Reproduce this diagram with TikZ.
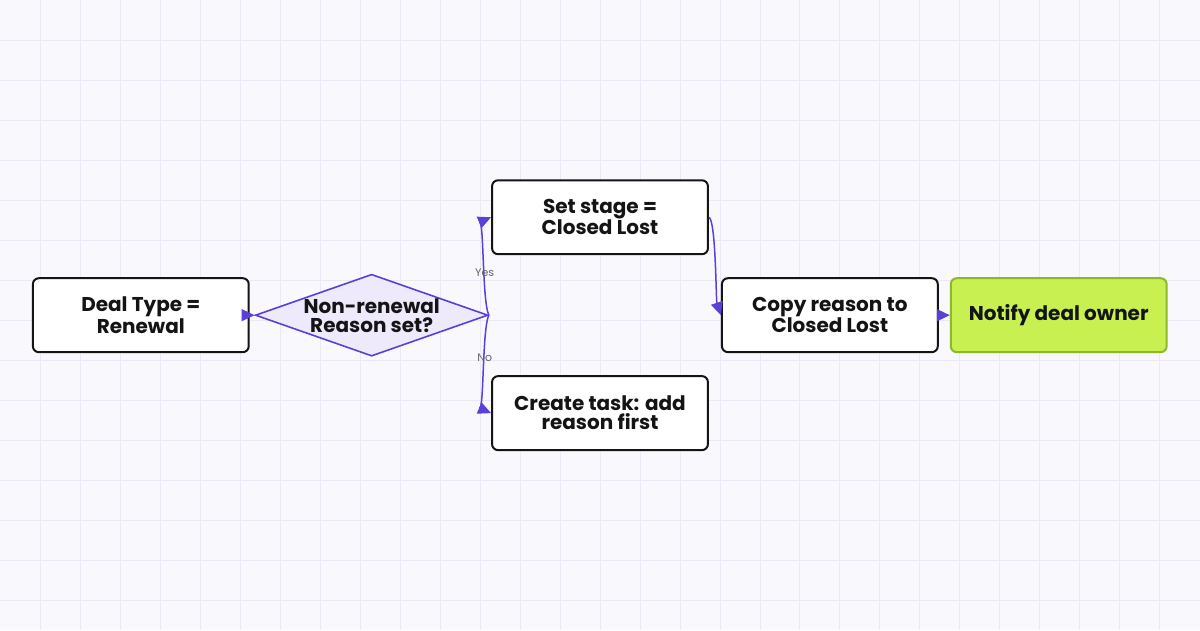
\documentclass[tikz,border=0pt]{standalone}
\usepackage{fontspec}
\setmainfont{Poppins}
\usetikzlibrary{arrows.meta,shapes.geometric}
\definecolor{bg}{HTML}{F9F8FD}
\definecolor{gridc}{HTML}{ECE9F7}
\definecolor{edge}{HTML}{5B3FD6}
\definecolor{dfill}{HTML}{EEEAFB}
\definecolor{gfill}{HTML}{C8F051}
\definecolor{gdraw}{HTML}{8DB82A}
\definecolor{ink}{HTML}{141414}
\begin{document}
\begin{tikzpicture}[x=1pt,y=-1pt,
  box/.style={draw=ink,line width=2pt,rounded corners=6pt,fill=white,minimum width=216pt,minimum height=74pt,align=center,font=\bfseries\fontsize{20}{19}\selectfont,text=ink,inner sep=2pt},
  dia/.style={diamond,aspect=2.84,draw=edge,line width=1.6pt,fill=dfill,minimum width=227pt,minimum height=80pt,inner sep=0pt,align=center,font=\bfseries\fontsize{20}{19}\selectfont,text=ink},
  conn/.style={draw=edge,line width=1.5pt,-{Triangle[length=13pt,width=12pt]}},
  lab/.style={font=\fontsize{11}{11}\selectfont,text=gray!80!black}]
\fill[bg] (0,0) rectangle (1200,630);
\foreach \x in {40,80,...,1160} \draw[gridc,line width=0.8pt] (\x,0) -- (\x,630);
\foreach \y in {40,80,...,600} \draw[gridc,line width=0.8pt] (0,\y) -- (1200,\y);
\useasboundingbox (0,0) rectangle (1200,630);
\node[box] (a) at (140.5,315) {Deal Type =\\Renewal};
\node[dia] (d) at (371.5,315) {Non-renewal\\Reason set?};
\node[box] (s) at (600,217) {Set stage =\\Closed Lost};
\node[box] (t) at (600,413) {Create task: add\\reason first};
\node[box] (c) at (830,315) {Copy reason to\\Closed Lost};
\node[box,fill=gfill,draw=gdraw] (n) at (1059,315) {Notify deal owner};
\draw[conn] (a.east) -- (d.west);
\draw[conn] (d.east) .. controls (482,300) and (484,220) .. (s.west) node[lab,pos=0.42] {Yes};
\draw[conn] (d.east) .. controls (482,330) and (484,410) .. (t.west) node[lab,pos=0.42] {No};
\draw[conn] (s.east) .. controls (716,220) and (716,300) .. (c.west);
\draw[conn] (c.east) -- (n.west);
\end{tikzpicture}
\end{document}
